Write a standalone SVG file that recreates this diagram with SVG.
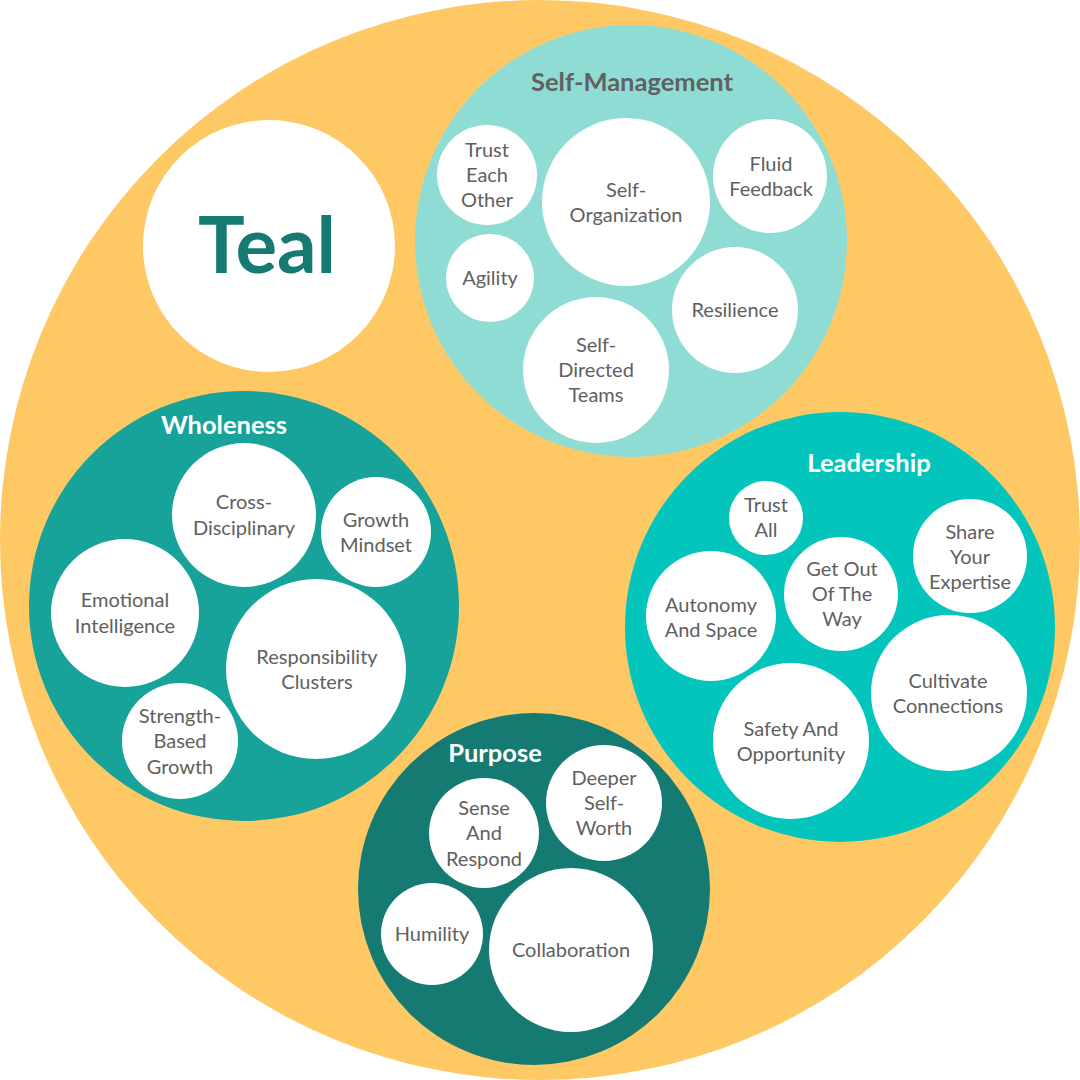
<svg xmlns="http://www.w3.org/2000/svg" width="1080" height="1080" viewBox="0 0 1080 1080">
<style>
.n{fill:#ffffff}
.t{font-family:Lato,"Open Sans","Liberation Sans",sans-serif;font-size:20px;fill:#606060;text-anchor:middle}
.h{font-family:Lato,"Open Sans","Liberation Sans",sans-serif;font-size:25.5px;font-weight:bold;text-anchor:middle;fill:#ffffff}
</style>
<rect width="1080" height="1080" fill="#ffffff"/>
<circle id="outer" cx="540" cy="540" r="540" fill="#FEC965"/>
<g id="teal">
<circle class="n" cx="269" cy="246" r="126"/>
<text x="267" y="273" font-family="Lato,'Open Sans','Liberation Sans',sans-serif" font-size="78" font-weight="bold" fill="#157A72" text-anchor="middle">Teal</text>
</g>
<g id="self-management">
<circle cx="631" cy="241" r="216" fill="#8FDCD5"/>
<text class="h" x="632" y="91" style="fill:#616161">Self-Management</text>
<g id="trust-each-other"><circle class="n" cx="487" cy="175" r="50"/><text class="t" x="487" y="157">Trust</text><text class="t" x="487" y="182">Each</text><text class="t" x="487" y="207">Other</text></g>
<g id="self-organization"><circle class="n" cx="626" cy="202" r="84"/><text class="t" x="626" y="197">Self-</text><text class="t" x="626" y="222">Organization</text></g>
<g id="fluid-feedback"><circle class="n" cx="770" cy="176" r="57"/><text class="t" x="771" y="171">Fluid</text><text class="t" x="771" y="196">Feedback</text></g>
<g id="agility"><circle class="n" cx="490" cy="278" r="44"/><text class="t" x="490" y="285">Agility</text></g>
<g id="resilience"><circle class="n" cx="735" cy="310" r="63"/><text class="t" x="735" y="317">Resilience</text></g>
<g id="self-directed-teams"><circle class="n" cx="596" cy="370" r="73"/><text class="t" x="596" y="352">Self-</text><text class="t" x="596" y="377">Directed</text><text class="t" x="596" y="402">Teams</text></g>
</g>
<g id="wholeness">
<circle cx="244" cy="606" r="215" fill="#17A39A"/>
<text class="h" x="224" y="434">Wholeness</text>
<g id="cross-disciplinary"><circle class="n" cx="244" cy="515" r="72"/><text class="t" x="244" y="509">Cross-</text><text class="t" x="244" y="535">Disciplinary</text></g>
<g id="growth-mindset"><circle class="n" cx="376" cy="532" r="55"/><text class="t" x="376" y="527">Growth</text><text class="t" x="376" y="552">Mindset</text></g>
<g id="emotional-intelligence"><circle class="n" cx="125" cy="613" r="74"/><text class="t" x="125" y="607">Emotional</text><text class="t" x="125" y="633">Intelligence</text></g>
<g id="responsibility-clusters"><circle class="n" cx="316" cy="669" r="90"/><text class="t" x="317" y="664">Responsibility</text><text class="t" x="317" y="689">Clusters</text></g>
<g id="strength-based-growth"><circle class="n" cx="180" cy="741" r="58"/><text class="t" x="180" y="723">Strength-</text><text class="t" x="180" y="748">Based</text><text class="t" x="180" y="774">Growth</text></g>
</g>
<g id="leadership">
<circle cx="840" cy="627" r="215" fill="#03C5BC"/>
<text class="h" x="869" y="472">Leadership</text>
<g id="trust-all"><circle class="n" cx="766" cy="518" r="37"/><text class="t" x="766" y="512">Trust</text><text class="t" x="766" y="537">All</text></g>
<g id="share-your-expertise"><circle class="n" cx="970" cy="556" r="57"/><text class="t" x="970" y="539">Share</text><text class="t" x="970" y="564">Your</text><text class="t" x="970" y="589">Expertise</text></g>
<g id="autonomy-and-space"><circle class="n" cx="711" cy="616" r="65"/><text class="t" x="711" y="612">Autonomy</text><text class="t" x="711" y="637">And Space</text></g>
<g id="get-out-of-the-way"><circle class="n" cx="841" cy="594" r="57"/><text class="t" x="842" y="576">Get Out</text><text class="t" x="842" y="601">Of The</text><text class="t" x="842" y="626">Way</text></g>
<g id="cultivate-connections"><circle class="n" cx="949" cy="693" r="78"/><text class="t" x="948" y="688">Cultivate</text><text class="t" x="948" y="713">Connections</text></g>
<g id="safety-and-opportunity"><circle class="n" cx="791" cy="741" r="78"/><text class="t" x="791" y="736">Safety And</text><text class="t" x="791" y="761">Opportunity</text></g>
</g>
<g id="purpose">
<circle cx="534" cy="889" r="176" fill="#157A72"/>
<text class="h" x="495" y="762">Purpose</text>
<g id="sense-and-respond"><circle class="n" cx="484" cy="833" r="55"/><text class="t" x="484" y="815">Sense</text><text class="t" x="484" y="840">And</text><text class="t" x="484" y="866">Respond</text></g>
<g id="deeper-self-worth"><circle class="n" cx="604" cy="803" r="58"/><text class="t" x="604" y="785">Deeper</text><text class="t" x="604" y="810">Self-</text><text class="t" x="604" y="835">Worth</text></g>
<g id="humility"><circle class="n" cx="432" cy="934" r="51"/><text class="t" x="432" y="941">Humility</text></g>
<g id="collaboration"><circle class="n" cx="571" cy="950" r="82"/><text class="t" x="571" y="957">Collaboration</text></g>
</g>
<g id="connectors"/>
</svg>
